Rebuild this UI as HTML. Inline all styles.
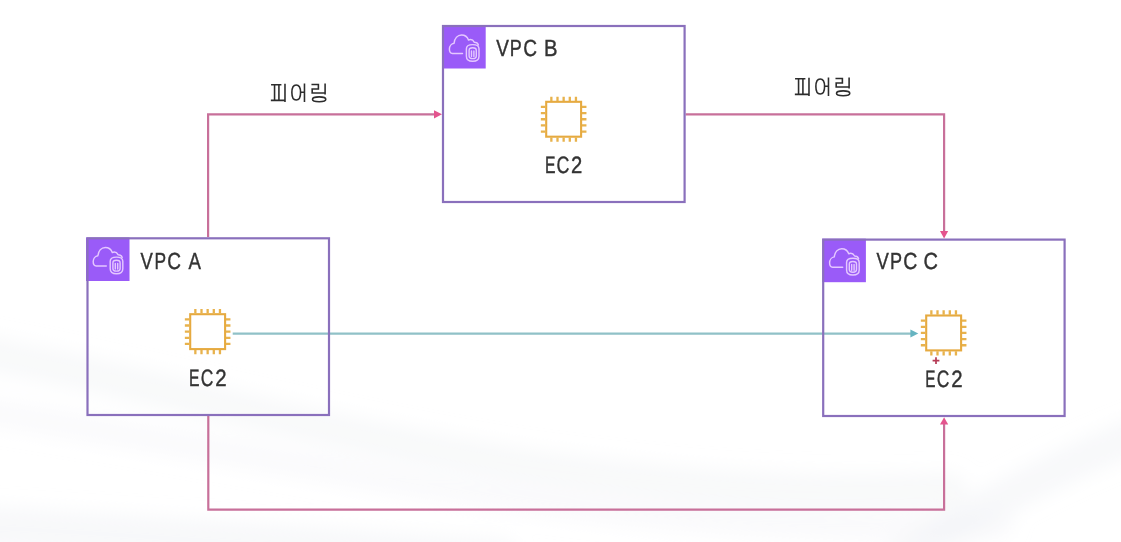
<!DOCTYPE html>
<html>
<head>
<meta charset="utf-8">
<style>
html,body{margin:0;padding:0;background:#fff;}
body{width:1121px;height:542px;overflow:hidden;position:relative;font-family:"Liberation Sans",sans-serif;}
svg{position:absolute;left:0;top:0;will-change:transform;}
</style>
</head>
<body>
<svg width="1121" height="542" viewBox="0 0 1121 542">
  <defs>
    <g id="chip">
      <rect x="-17.45" y="-17.45" width="34.9" height="34.9" fill="none" stroke="#E6AA40" stroke-width="2.1"/>
      <path d="M-12.3,-18.3V-22.6 M-12.3,18.3V22.6 M-18.3,-12.3H-22.8 M18.3,-12.3H22.8 M-6.15,-18.3V-22.6 M-6.15,18.3V22.6 M-18.3,-6.15H-22.8 M18.3,-6.15H22.8 M0,-18.3V-22.6 M0,18.3V22.6 M-18.3,0H-22.8 M18.3,0H22.8 M6.15,-18.3V-22.6 M6.15,18.3V22.6 M-18.3,6.15H-22.8 M18.3,6.15H22.8 M12.3,-18.3V-22.6 M12.3,18.3V22.6 M-18.3,12.3H-22.8 M18.3,12.3H22.8" stroke="#E8B24C" stroke-width="2.3" fill="none"/>
    </g>
    <g id="vpcicon">
      <rect x="0" y="0" width="43.5" height="43.5" fill="#9A5BF8"/>
      <g fill="none" stroke="#E5C8FF" stroke-width="1.45" stroke-linejoin="round" stroke-linecap="round">
        <path d="M20.3,28.5 H10.2 C8.3,28.5 7.2,26.4 7.2,24.1 C7.2,21.2 9.3,18.6 11.9,18.2 C12.4,13.4 15.4,10 19.3,10 C22.6,10 25.2,12 26.3,15 C28.4,14.2 31,15.2 32.2,17.3 C34,17.3 35.6,18.3 36.2,20"/>
        <path d="M24.2,23.8 C24.2,20.9 26.8,19.6 30.5,19.6 C34.2,19.6 36.8,20.9 36.8,23.8 V31.2 C36.8,34.4 34.2,36.3 30.5,36.3 C26.8,36.3 24.2,34.4 24.2,31.2 Z"/>
        <path d="M26.9,25.4 C26.9,23.6 28.4,22.8 30.5,22.8 C32.6,22.8 34.1,23.6 34.1,25.4 V30.9 C34.1,32.7 32.6,33.6 30.5,33.6 C28.4,33.6 26.9,32.7 26.9,30.9 Z"/>
        <path d="M29.3,25.9 V31.6 M31.7,25.9 V31.6"/>
      </g>
    </g>
    <g id="peering" fill="none" stroke="#2c2c2c" stroke-width="22" stroke-linecap="butt">
      <path d="M155,137 H300 M204,137 V355 M265,137 V355 M152,355 H350 M350,122 V380"/>
      <path d="M507.5,139 C548.98,139 568.5,172.92000000000002 568.5,245 C568.5,317.08 548.98,351 507.5,351 C466.02,351 446.5,317.08 446.5,245 C446.5,172.92000000000002 466.02,139 507.5,139 Z"/>
      <path d="M560,241 H623 M623,120 V380"/>
      <path d="M721,134 H818 V197 H731 V251 H906 M912,120 V272"/>
      <path d="M828.5,306.5 C884.3,306.5 921.5,320.1 921.5,340.5 C921.5,360.9 884.3,374.5 828.5,374.5 C772.7,374.5 735.5,360.9 735.5,340.5 C735.5,320.1 772.7,306.5 828.5,306.5 Z"/>
    </g>
  </defs>

  <!-- faint background swooshes -->
  <defs>
    <filter id="soft" x="-20%" y="-50%" width="140%" height="200%"><feGaussianBlur stdDeviation="10"/></filter>
  </defs>
  <g filter="url(#soft)" fill="none" stroke-linecap="round">
    <path d="M-60,345 C120,375 300,430 520,465 C700,490 820,495 950,490" stroke="#eceef3" stroke-width="34" opacity="0.38"/>
    <path d="M-60,405 C150,435 330,475 560,505 C760,530 900,530 1000,525" stroke="#eef0f4" stroke-width="26" opacity="0.3"/>
    <path d="M-60,525 C150,535 300,548 500,560" stroke="#eceef2" stroke-width="40" opacity="0.4"/>
    <path d="M900,560 C980,510 1060,460 1180,420" stroke="#eceef3" stroke-width="34" opacity="0.4"/>
  </g>
  <!-- connector lines -->
  <g fill="none" stroke="#C8709A" stroke-width="2.2">
    <path d="M208.1,237 V114.3 H435"/>
    <path d="M685.6,114.3 H944.1 V232"/>
    <path d="M208.3,416 V509.7 H944.1 V424"/>
  </g>
  <g fill="#E4548E">
    <path d="M442,114.3 L434,110.2 L434,118.4 Z"/>
    <path d="M944.1,238.5 L940,231 L948.2,231 Z"/>
    <path d="M944.1,417.3 L940,424.6 L948.2,424.6 Z"/>
  </g>
  <path d="M232.7,333.6 H912" stroke="#90C1C7" stroke-width="2.2" fill="none"/>
  <path d="M918.3,333.6 L910.4,329.6 L910.4,337.6 Z" fill="#66B4C1"/>

  <!-- boxes -->
  <use href="#vpcicon" x="86" y="237.5"/>
  <use href="#vpcicon" x="442.2" y="25"/>
  <use href="#vpcicon" x="822.4" y="238.7"/>
  <g fill="none" stroke="#8A70BC" stroke-width="2.2">
    <rect x="87.5" y="238.3" width="241.5" height="176.7"/>
    <rect x="443" y="26" width="241.6" height="176"/>
    <rect x="823.2" y="239.6" width="241.4" height="176.4"/>
  </g>

  <!-- chips -->
  <use href="#chip" x="207.65" y="331.65"/>
  <use href="#chip" x="563.65" y="119.25"/>
  <use href="#chip" x="943.65" y="332.95"/>

  <!-- red plus -->
  <path d="M936,357.2 V364 M932.6,360.6 H939.4" stroke="#B53A55" stroke-width="1.7"/>

  <!-- labels -->
  <g font-family="Liberation Sans, sans-serif" fill="#333333" stroke="#333333" stroke-width="1.8" text-rendering="geometricPrecision">
    <text transform="matrix(0.18462,0,0,0.23300,140.62,269.00)" font-size="100">V</text>
    <text transform="matrix(0.17358,0,0,0.23300,154.41,269.00)" font-size="100">P</text>
    <text transform="matrix(0.19048,0,0,0.23300,167.35,269.00)" font-size="100">C</text>
    <text transform="matrix(0.18636,0,0,0.23300,188.60,269.00)" font-size="100">A</text>
    <text transform="matrix(0.18923,0,0,0.23400,496.31,56.00)" font-size="100">V</text>
    <text transform="matrix(0.17925,0,0,0.23400,509.67,56.00)" font-size="100">P</text>
    <text transform="matrix(0.19048,0,0,0.23400,523.35,56.00)" font-size="100">C</text>
    <text transform="matrix(0.20189,0,0,0.23400,543.88,56.00)" font-size="100">B</text>
    <text transform="matrix(0.18462,0,0,0.23300,876.62,269.00)" font-size="100">V</text>
    <text transform="matrix(0.18019,0,0,0.23300,890.01,269.00)" font-size="100">P</text>
    <text transform="matrix(0.19524,0,0,0.23300,903.32,269.00)" font-size="100">C</text>
    <text transform="matrix(0.20000,0,0,0.23300,923.60,269.00)" font-size="100">C</text>
    <text transform="matrix(0.15741,0,0,0.23500,188.90,386.00)" font-size="100">E</text>
    <text transform="matrix(0.17349,0,0,0.23500,200.80,386.00)" font-size="100">C</text>
    <text transform="matrix(0.20391,0,0,0.23500,215.26,386.00)" font-size="100">2</text>
    <text transform="matrix(0.15741,0,0,0.23500,544.94,173.00)" font-size="100">E</text>
    <text transform="matrix(0.17778,0,0,0.23500,556.51,173.00)" font-size="100">C</text>
    <text transform="matrix(0.20217,0,0,0.23500,571.09,173.00)" font-size="100">2</text>
    <text transform="matrix(0.15333,0,0,0.23500,925.15,387.00)" font-size="100">E</text>
    <text transform="matrix(0.17349,0,0,0.23500,936.80,387.00)" font-size="100">C</text>
    <text transform="matrix(0.20391,0,0,0.23500,951.26,387.00)" font-size="100">2</text>
  </g>
  <use href="#peering" transform="translate(260,75) scale(0.07138)"/>
  <use href="#peering" transform="translate(784,69) scale(0.07138)"/>
</svg>
</body>
</html>
